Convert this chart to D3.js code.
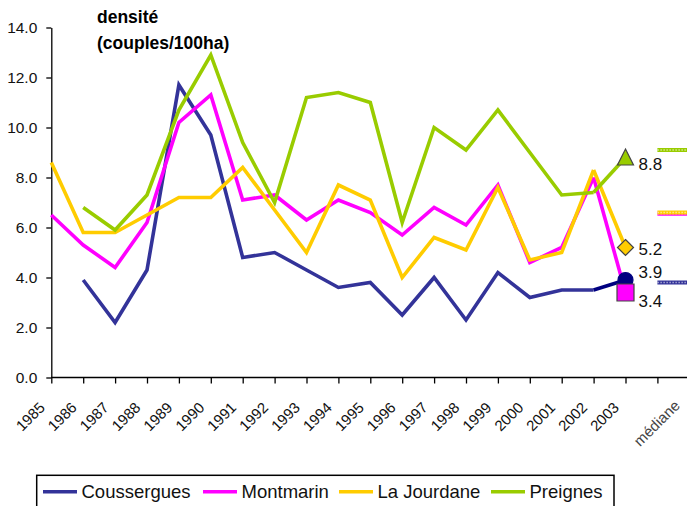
<!DOCTYPE html>
<html><head><meta charset="utf-8">
<script src="https://cdn.jsdelivr.net/npm/d3@7/dist/d3.min.js"></script>
<style>
html,body{margin:0;padding:0;background:#fff;}
svg{display:block;font-family:"Liberation Sans",Arial,sans-serif;}
</style></head>
<body><svg id="c" width="687" height="506"></svg>
<script>
// ---- data ----
const years = ["1985","1986","1987","1988","1989","1990","1991","1992","1993","1994","1995","1996","1997","1998","1999","2000","2001","2002","2003"];
const categories = years.concat(["", "médiane"]);
const coussergues = [null,3.9,2.2,4.3,11.7,9.7,4.8,5.0,4.3,3.6,3.8,2.5,4.0,2.3,4.2,3.2,3.5,3.5,3.9];
const montmarin   = [6.5,5.3,4.4,6.2,10.2,11.3,7.1,7.3,6.3,7.1,6.6,5.7,6.8,6.1,7.7,4.6,5.2,8.0,3.4];
const laJourdane  = [8.6,5.8,5.8,6.5,7.2,7.2,8.4,6.7,5.0,7.7,7.1,4.0,5.6,5.1,7.6,4.7,5.0,8.3,5.2];
const preignes    = [null,6.8,5.9,7.3,10.7,12.9,9.4,7.0,11.2,11.4,11.0,6.2,10.0,9.1,10.7,9.0,7.3,7.4,8.8];
const seriesNames = ["Coussergues","Montmarin","La Jourdane","Preignes"];
const medians = [3.8, 6.55, 6.6, 9.1];
const yTicks = [0,2,4,6,8,10,12,14];

// ---- style ----
const colors = ["#333399","#FF00FF","#FFCC00","#99CC00"];
const markerFill = ["#000080","#FF00FF","#FFCC00","#99CC00"];
const labelDy = [-2, 14, 7.5, 12.5];

const svg = d3.select("#c");
const x = d3.scalePoint().domain(categories).range([51.3, 51.3 + 31.9*20]);
const y = d3.scaleLinear().domain([0,14]).range([377.5, 27.5]);

// y axis
const yAxis = svg.append("g").attr("transform","translate(51.3,0)")
  .call(d3.axisLeft(y).tickValues(yTicks).tickFormat(d3.format(".1f")).tickSize(5).tickSizeOuter(0));
yAxis.select(".domain").attr("stroke","#000").attr("stroke-width",1.3);
yAxis.selectAll(".tick line").attr("stroke","#000").attr("stroke-width",1.3);
yAxis.selectAll("text").attr("font-size",15.5).attr("fill","#111").attr("x",-14).attr("font-family","Liberation Sans, Arial");

// x axis
const xAxis = svg.append("g").attr("transform","translate(0,377.5)")
  .call(d3.axisBottom(x).tickSize(6).tickSizeOuter(0));
xAxis.select(".domain").attr("stroke","#000").attr("stroke-width",1.3).attr("d","M51.3,0H700");
xAxis.selectAll(".tick line").attr("stroke","#000").attr("stroke-width",1.3);
xAxis.selectAll("text").attr("font-size",15).attr("fill","#111")
  .attr("text-anchor","end").attr("y",0).attr("dy",0)
  .attr("transform","translate(-6,31) rotate(-45)")
  .attr("font-family","Liberation Sans, Arial");
xAxis.selectAll(".tick").filter(d=>d==="médiane").select("text").attr("fill","#444")
  .attr("transform","translate(-9,29) rotate(-45)");

// lines
const allSeries = [coussergues, montmarin, laJourdane, preignes];
const line = d3.line().defined(d=>d.v!==null).x(d=>x(d.c)).y(d=>y(d.v));
allSeries.forEach((s,i)=>{
  const pts = s.map((v,j)=>({c:years[j],v}));
  svg.append("path").datum(pts.slice(0, pts.length-1))
    .attr("d",line).attr("fill","none").attr("stroke",colors[i]).attr("stroke-width",3.6)
    .attr("stroke-linejoin","miter");
  svg.append("path").datum(pts.slice(pts.length-2))
    .attr("d",line).attr("fill","none").attr("stroke",i===0?"#000080":colors[i]).attr("stroke-width",3.6);
});

// medians
medians.forEach((m,i)=>{
  const g = svg.append("g");
  g.append("line").attr("x1",x(""))
    .attr("x2",x("médiane")).attr("y1",y(m)).attr("y2",y(m))
    .attr("stroke",colors[i]).attr("stroke-width",4);
  g.append("line").attr("x1",x(""))
    .attr("x2",x("médiane")).attr("y1",y(m)).attr("y2",y(m))
    .attr("stroke","#fff").attr("stroke-opacity",0.55).attr("stroke-width",1.5).attr("stroke-dasharray","1.5,1.5");
});

// end markers
function markerPath(i){
  const p = d3.path();
  if(i===0){ p.arc(0,0,7.5,0,2*Math.PI); }
  else if(i===1){ p.rect(-8.5,-8.5,17,17); }
  else if(i===2){ p.moveTo(0,-8); p.lineTo(8,0); p.lineTo(0,8); p.lineTo(-8,0); p.closePath(); }
  else { p.moveTo(0,-8.5); p.lineTo(8,7.5); p.lineTo(-8,7.5); p.closePath(); }
  return p.toString();
}
allSeries.forEach((s,i)=>{
  const v = s[s.length-1];
  const cx = x(years[years.length-1]), cy = y(v);
  svg.append("path").attr("d",markerPath(i))
    .attr("transform",`translate(${cx},${cy})`)
    .attr("fill",markerFill[i]).attr("stroke",i===0?"#000080":"#444").attr("stroke-width",1.2);
});
allSeries.forEach((s,i)=>{
  const v = s[s.length-1];
  svg.append("text").attr("x",x(years[years.length-1])+13).attr("y",y(v)+labelDy[i])
    .attr("font-size",17).attr("fill","#111").text(d3.format(".1f")(v));
});

// title
const t = svg.append("text").attr("x",97).attr("font-weight","bold").attr("font-size",17.5).attr("fill","#000");
t.append("tspan").attr("x",97).attr("y",23).text("densité");
t.append("tspan").attr("x",97).attr("y",49).text("(couples/100ha)");

// legend
const lg = svg.append("g");
lg.append("rect").attr("x",36.7).attr("y",475.3).attr("width",577.3).attr("height",40)
  .attr("fill","#fff").attr("stroke","#000").attr("stroke-width",1.5);
const legX = [43, 203, 339, 491];
seriesNames.forEach((n,i)=>{
  lg.append("line").attr("x1",legX[i]).attr("x2",legX[i]+34).attr("y1",491.7).attr("y2",491.7)
    .attr("stroke",colors[i]).attr("stroke-width",3.6);
  lg.append("text").attr("x",legX[i]+38.5).attr("y",498).attr("font-size",18.5).attr("fill","#111").text(n);
});
</script></body></html>
